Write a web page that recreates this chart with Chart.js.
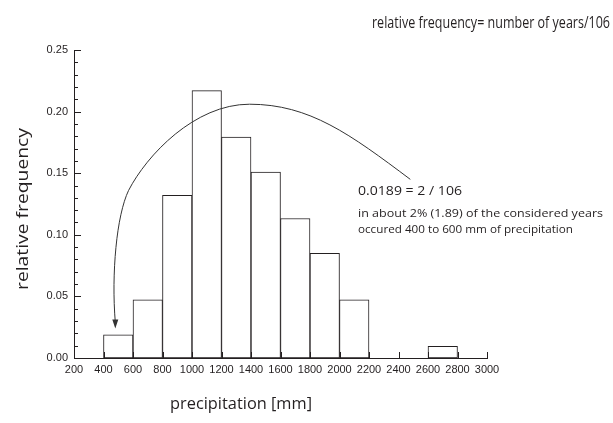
<!DOCTYPE html>
<html>
<head>
<meta charset="utf-8">
<script src="https://cdn.jsdelivr.net/npm/chart.js@4.4.0/dist/chart.umd.min.js"></script>
<style>
  html, body { margin: 0; padding: 0; background: #fff; }
  #wrap { width: 613px; height: 423px; }
</style>
</head>
<body>
<div id="wrap"><canvas id="myChart" width="613" height="423"></canvas></div>
<script>
// bin centres (mm), bins are 200 mm wide
var binCenters = [500, 700, 900, 1100, 1300, 1500, 1700, 1900, 2100, 2300, 2500, 2700];
// number of years in each bin (out of 106)
var yearCounts = [2, 5, 14, 23, 19, 16, 12, 9, 5, 0, 0, 1];
var totalYears = 106;
var relFreq = yearCounts.map(function (n) { return n / totalYears; });

var xTicks = [200, 400, 600, 800, 1000, 1200, 1400, 1600, 1800, 2000, 2200, 2400, 2600, 2800, 3000];
var yTicks = [0, 0.05, 0.10, 0.15, 0.20, 0.25];

// annotation arrow path in data units: [x mm, y rel. freq]
var arrowPath = [[2480, 0.145], [1390, 0.206], [570, 0.136], [480, 0.024]];

var ink = "#231f20";
var textFont = "'Open Sans'";

// draw text squeezed to a given width (reference uses a narrower face)
function fitText(ctx, txt, x, y, size, width) {
  ctx.font = size + "px " + textFont;
  var w = ctx.measureText(txt).width;
  ctx.save();
  ctx.translate(x, y);
  ctx.scale(width / w, 1);
  ctx.fillText(txt, 0, 0);
  ctx.restore();
}

var extras = {
  id: "extras",
  afterDraw: function (chart) {
    var ctx = chart.ctx, xs = chart.scales.x, ys = chart.scales.y, a = chart.chartArea;
    ctx.save();
    ctx.strokeStyle = ink;
    ctx.lineWidth = 1;
    // inner tick marks
    ctx.beginPath();
    xTicks.forEach(function (v) {
      var px = Math.round(xs.getPixelForValue(v)) + 0.5;
      ctx.moveTo(px, a.bottom); ctx.lineTo(px, a.bottom - 6);
    });
    for (var i = 0; i <= 25; i++) {
      var py = Math.round(ys.getPixelForValue(i / 100)) + 0.5;
      var len = (i % 5 === 0) ? 7 : 4;
      ctx.moveTo(a.left, py); ctx.lineTo(a.left + len, py);
    }
    ctx.stroke();

    // curved arrow
    var P = arrowPath.map(function (p) { return [xs.getPixelForValue(p[0]), ys.getPixelForValue(p[1])]; });
    ctx.strokeStyle = "#333";
    ctx.beginPath();
    ctx.moveTo(P[0][0], P[0][1]);
    ctx.bezierCurveTo(P[0][0] - 60, P[0][1] - 45, P[1][0] + 60, P[1][1], P[1][0], P[1][1]);
    ctx.bezierCurveTo(P[1][0] - 55, P[1][1], P[2][0] + 18, P[2][1] - 35, P[2][0], P[2][1]);
    ctx.bezierCurveTo(P[2][0] - 12, P[2][1] + 25, P[3][0] - 4, P[3][1] - 55, P[3][0], P[3][1] - 6);
    ctx.stroke();
    ctx.fillStyle = "#333";
    ctx.beginPath();
    ctx.moveTo(P[3][0], P[3][1]);
    ctx.lineTo(P[3][0] - 3, P[3][1] - 9);
    ctx.lineTo(P[3][0] + 3, P[3][1] - 9);
    ctx.closePath();
    ctx.fill();

    // texts
    ctx.fillStyle = ink;
    ctx.textBaseline = "alphabetic";
    ctx.textAlign = "left";
    fitText(ctx, "relative frequency= number of years/106", 372, 28, 16.5, 238);
    fitText(ctx, "0.0189 = 2 / 106", 358, 195, 13, 104);
    fitText(ctx, "in about 2% (1.89) of the considered years", 358, 217, 11.5, 245);
    fitText(ctx, "occured 400 to 600 mm of precipitation", 358, 233, 11.5, 215);
    fitText(ctx, "precipitation [mm]", 170, 409, 16.5, 142);
    ctx.translate(28, (a.top + a.bottom) / 2 + 86);
    ctx.rotate(-Math.PI / 2);
    fitText(ctx, "relative frequency", 0, 0, 17, 162);
    ctx.restore();
  }
};

new Chart("myChart", {
  type: "bar",
  data: {
    datasets: [{
      data: binCenters.map(function (x, i) { return { x: x, y: relFreq[i] }; }),
      backgroundColor: "#ffffff",
      borderColor: "#231f20",
      borderWidth: 1,
      borderSkipped: false,
      barPercentage: 1,
      categoryPercentage: 1
    }]
  },
  options: {
    responsive: false,
    animation: false,
    layout: { padding: { left: 0, right: 126, top: 50, bottom: 0 } },
    plugins: { legend: { display: false }, tooltip: { enabled: false } },
    scales: {
      x: {
        type: "linear",
        offset: false,
        min: 200,
        max: 3000,
        afterBuildTicks: function (s) { s.ticks = xTicks.map(function (v) { return { value: v }; }); },
        afterFit: function (s) { s.height = 65; },
        ticks: {
          color: ink,
          font: { family: "'Liberation Sans'", size: 11 },
          padding: 5,
          maxRotation: 0,
          autoSkip: false,
          callback: function (v) { return String(v); }
        },
        grid: { display: false, drawTicks: false, offset: false },
        border: { display: true, color: ink, width: 1 }
      },
      y: {
        min: 0,
        max: 0.25,
        afterBuildTicks: function (s) { s.ticks = yTicks.map(function (v) { return { value: v }; }); },
        afterFit: function (s) { s.width = 74; },
        ticks: {
          color: ink,
          font: { family: "'Liberation Sans'", size: 11 },
          padding: 6,
          callback: function (v) { return v.toFixed(2); }
        },
        grid: { display: false, drawTicks: false },
        border: { display: true, color: ink, width: 1 }
      }
    }
  },
  plugins: [extras]
});
</script>
</body>
</html>
